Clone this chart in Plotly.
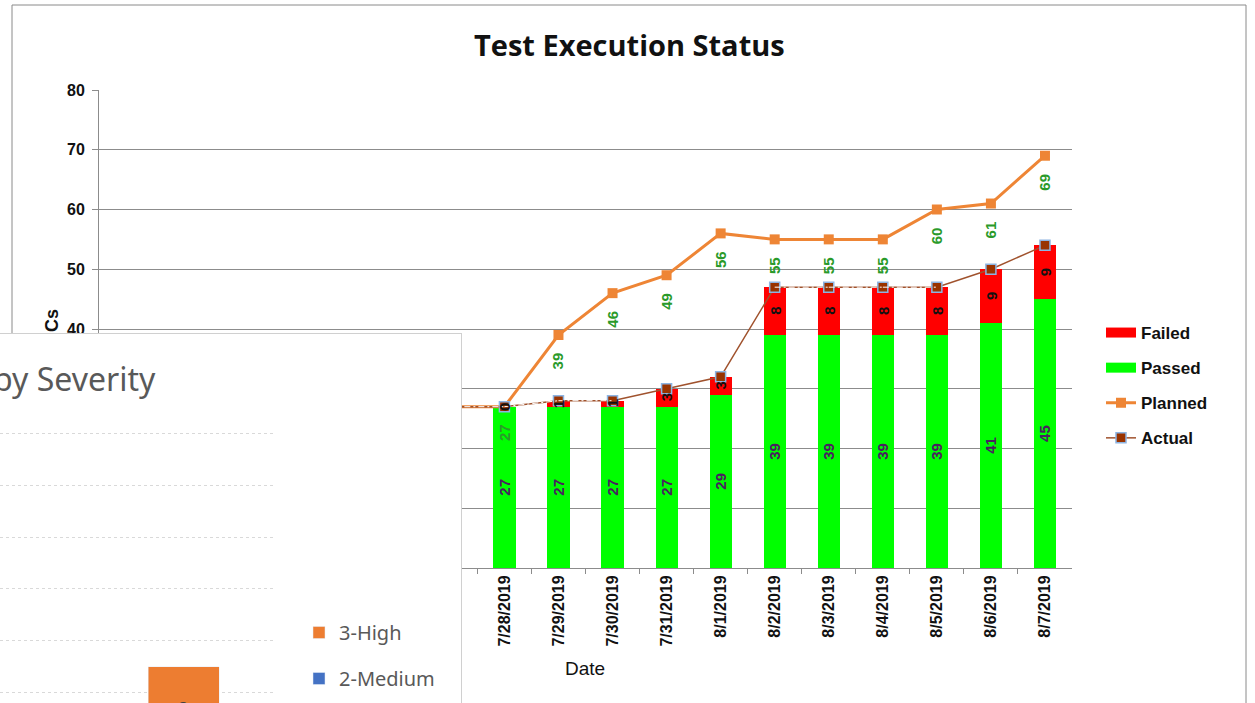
import plotly.graph_objects as go

# ---------------- data ----------------
dates = ["7/21/2019", "7/22/2019", "7/23/2019", "7/24/2019", "7/25/2019", "7/26/2019",
         "7/27/2019", "7/28/2019", "7/29/2019", "7/30/2019", "7/31/2019", "8/1/2019",
         "8/2/2019", "8/3/2019", "8/4/2019", "8/5/2019", "8/6/2019", "8/7/2019"]
passed = [None, None, None, None, None, None, 27, 27, 27, 27, 27, 29, 39, 39, 39, 39, 41, 45]
failed = [None, None, None, None, None, None, 0, 0, 1, 1, 3, 3, 8, 8, 8, 8, 9, 9]
planned = [None, None, None, None, None, None, 27, 27, 39, 46, 49, 56, 55, 55, 55, 60, 61, 69]
actual = [None, None, None, None, None, None, 27, 27, 28, 28, 30, 32, 47, 47, 47, 47, 50, 54]
y_ticks = [0, 10, 20, 30, 40, 50, 60, 70, 80]
n_hidden = 7  # leading dates covered by the inset chart

sev_cats = ["Open"]
sev_high = [3]
sev_medium = [0]
sev_ticks = [2, 4, 6, 8, 10, 12]

# ---------------- helpers ----------------
W, H = 1255, 703
def fx(p):
    return p / W
def fy(p):
    return 1 - p / H

ARIAL = "Liberation Sans, Arial, sans-serif"
SANS = "Noto Sans, Open Sans, sans-serif"
GRID = "#8c8c8c"

fig = go.Figure()

# ---------------- main chart ----------------
fig.add_trace(go.Bar(
    x=dates, y=passed, name="Passed", marker=dict(color="#00FF00", line=dict(width=0)),
    width=0.41, text=[("" if v is None else str(v)) for v in passed],
    textposition="inside", insidetextanchor="middle", textangle=-90, constraintext="none",
    textfont=dict(family=ARIAL, size=15, color="#4a2060", weight="bold"),
    showlegend=False, hoverinfo="skip"))
fig.add_trace(go.Bar(
    x=dates, y=failed, name="Failed", marker=dict(color="#FF0000", line=dict(width=0)),
    width=0.41, showlegend=False, hoverinfo="skip"))
fig.add_trace(go.Scatter(
    x=dates, y=planned, name="Planned", mode="lines+markers",
    line=dict(color="#EE8535", width=3),
    marker=dict(symbol="square", size=10, color="#EE8535"),
    legendrank=3, legendgroup="c", hoverinfo="skip"))
fig.add_trace(go.Scatter(
    x=dates, y=actual, name="Actual", mode="lines+markers",
    line=dict(color="#A0522D", width=1.5),
    marker=dict(symbol="square", size=10, color="#993300", line=dict(color="#8DB4E2", width=1.5)),
    legendrank=4, legendgroup="d", hoverinfo="skip"))

# white dash-dot overlay on the nearly flat parts of the Actual line
ox, oy = [], []
for i in range(1, len(dates)):
    a, b = actual[i - 1], actual[i]
    if a is not None and b is not None and abs(b - a) <= 1:
        ox += [dates[i - 1], dates[i], None]
        oy += [a, b, None]
fig.add_trace(go.Scatter(x=ox, y=oy, mode="lines", line=dict(color="white", width=1, dash="6px,3px,2px,3px"),
                         showlegend=False, hoverinfo="skip"))

# legend proxies for the bars
fig.add_trace(go.Scatter(x=[None], y=[None], name="Failed", mode="lines",
                         line=dict(color="#FF0000", width=10), legendrank=1, legendgroup="a"))
fig.add_trace(go.Scatter(x=[None], y=[None], name="Passed", mode="lines",
                         line=dict(color="#00FF00", width=10), legendrank=2, legendgroup="b"))

# ---------------- inset background (x2/y2) ----------------
fig.add_trace(go.Scatter(x=[None], y=[None], xaxis="x2", yaxis="y2", showlegend=False, hoverinfo="skip"))

# ---------------- inset severity chart (x3/y3) ----------------
fig.add_trace(go.Bar(x=sev_cats, y=sev_medium, name="2-Medium", xaxis="x3", yaxis="y3",
                     marker=dict(color="#4472C4"), width=0.5, legend="legend2",
                     legendrank=2, legendgroup="m", hoverinfo="skip"))
fig.add_trace(go.Bar(x=sev_cats, y=sev_high, name="3-High", xaxis="x3", yaxis="y3",
                     marker=dict(color="#ED7D31"), width=0.5, legend="legend2",
                     text=[str(v) for v in sev_high], textposition="inside",
                     insidetextanchor="middle", textangle=0,
                     textfont=dict(family=SANS, size=15, color="#404040"),
                     legendrank=1, legendgroup="h", hoverinfo="skip"))

# ---------------- annotations ----------------
ann = []
for i, d in enumerate(dates):
    if i < n_hidden:
        continue
    if planned[i] is not None:
        ann.append(dict(x=d, y=planned[i], xref="x", yref="y", text=str(planned[i]),
                        textangle=-90, showarrow=False, yshift=-26,
                        font=dict(family=ARIAL, size=15, color="#2a9a2a", weight="bold")))
    if failed[i] is not None and passed[i] is not None:
        ann.append(dict(x=d, y=passed[i] + failed[i] / 2, xref="x", yref="y", text=str(failed[i]),
                        textangle=-90, showarrow=False,
                        font=dict(family=ARIAL, size=15, color="#111111", weight="bold")))

ann.append(dict(x=fx(629), y=fy(44), xref="paper", yref="paper", yanchor="middle",
                text="<b>Test Execution Status</b>",
                showarrow=False, font=dict(family="Open Sans, sans-serif", size=29, color="#111111")))
ann.append(dict(x=fx(585), y=fy(668), xref="paper", yref="paper", yanchor="middle", text="Date",
                showarrow=False, font=dict(family=ARIAL, size=19, color="#111111")))
ann.append(dict(x=fx(40), y=fy(326), xref="paper", yref="paper", yanchor="middle",
                text='<b><span style="color:rgba(0,0,0,0)">T</span>Cs</b>', textangle=-90,
                showarrow=False, font=dict(family=ARIAL, size=18, color="#111111")))
ann.append(dict(x=fx(158), y=fy(378), xref="paper", yref="paper", xanchor="right", yanchor="middle",
                text="Defects by Severity", showarrow=False,
                font=dict(family=SANS, size=32, color="#595959")))

# outer frame of the main chart
shapes = [dict(type="rect", xref="paper", yref="paper", x0=fx(12), x1=fx(1246), y0=fy(760), y1=fy(5),
               line=dict(color="#8a8a8a", width=1), fillcolor="rgba(0,0,0,0)", layer="below")]

fig.update_layout(
    width=W, height=H, margin=dict(l=0, r=0, t=0, b=0),
    paper_bgcolor="white", plot_bgcolor="white", barmode="stack",
    annotations=ann, shapes=shapes,
    xaxis=dict(domain=[fx(99), fx(1072)], type="category", categoryorder="array", categoryarray=dates,
               range=[-0.5, len(dates) - 0.5], showline=True, linecolor=GRID, linewidth=1,
               ticks="outside", tickson="boundaries", ticklen=5, tickcolor=GRID, tickangle=-90,
               tickfont=dict(family=ARIAL, size=16, color="#111111", weight="bold"),
               showgrid=False, automargin=False, fixedrange=True),
    yaxis=dict(domain=[fy(568), fy(90)], range=[0, 80], tickvals=y_ticks, showline=True,
               linecolor=GRID, linewidth=1, ticks="outside", ticklen=6, tickcolor=GRID,
               gridcolor=GRID, gridwidth=1, zeroline=False, ticklabelstandoff=4,
               tickfont=dict(family=ARIAL, size=16, color="#111111", weight="bold"),
               automargin=False, fixedrange=True),
    xaxis2=dict(domain=[0, fx(461)], anchor="y2", range=[0, 1], side="top", showline=True,
                linecolor="#d0d0d0", showgrid=False, zeroline=False, showticklabels=False,
                fixedrange=True),
    yaxis2=dict(domain=[0, fy(334)], anchor="x2", range=[0, 1], side="right", showline=True,
                linecolor="#d0d0d0", showgrid=False, zeroline=False, showticklabels=False,
                fixedrange=True),
    xaxis3=dict(domain=[0, fx(273)], anchor="y3", type="category", range=[-1.292, 0.630],
                showline=False, showgrid=False, zeroline=False, showticklabels=False, fixedrange=True),
    yaxis3=dict(domain=[0, fy(431.7)], anchor="x3", range=[1.615, 12.05], tickvals=sev_ticks,
                showgrid=True, gridcolor="#d9d9d9", griddash="dot", gridwidth=1, zeroline=False,
                showline=False, showticklabels=False, fixedrange=True),
    legend=dict(x=fx(1101), y=fy(315), xanchor="left", yanchor="top", traceorder="grouped",
                tracegroupgap=10, bgcolor="rgba(0,0,0,0)",
                font=dict(family=ARIAL, size=17, color="#111111", weight="bold")),
    legend2=dict(x=fx(299), y=fy(613), xanchor="left", yanchor="top", traceorder="grouped",
                 tracegroupgap=17, bgcolor="rgba(0,0,0,0)",
                 font=dict(family=SANS, size=20, color="#595959")),
)

fig.write_html("out.html", config={"displayModeBar": False},
               post_script="document.body.style.margin='0';document.body.style.overflow='hidden';")
